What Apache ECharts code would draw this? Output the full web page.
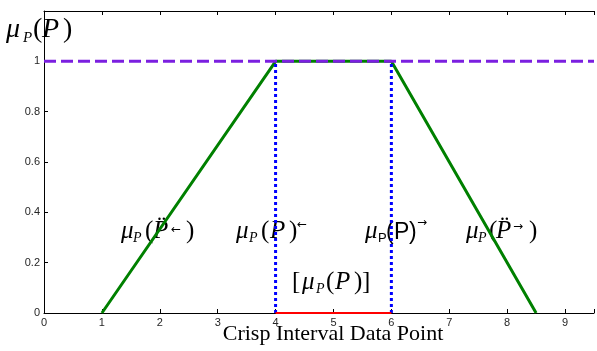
<!DOCTYPE html>
<html>
<head>
<meta charset="utf-8">
<script src="https://cdn.jsdelivr.net/npm/echarts@6/dist/echarts.min.js"></script>
<style>html,body{margin:0;padding:0;background:#fff;}#c{width:597px;height:351px;}</style>
</head>
<body>
<div id="c"></div>
<script>
// ---- data ----
const trapX = [1, 4, 6, 8.5];
const trapY = [0, 1, 1, 0];
const fullX = [0, 9.5];
const topLevel = [1, 1];
const leftCutX = [4, 4];
const rightCutX = [6, 6];
const cutY = [0, 1];
const intervalX = [4, 6];
const intervalY = [0, 0];
const xTickLabels = ['0','1','2','3','4','5','6','7','8','9'];
const yTickLabels = ['0','0.2','0.4','0.6','0.8','1'];

const zip = (a, b) => a.map((v, i) => [v, b[i]]);

const chart = echarts.init(document.getElementById('c'));

const SERIF = "'Liberation Serif', 'Times New Roman', serif";
const SANS = "'Liberation Sans', Arial, sans-serif";
const ARROW = "'DejaVu Sans', sans-serif";

// each part: t, x (left), size, italic, family, and either base (baseline) or cy (centre)
function buildLabel(parts) {
  return {
    type: 'group', silent: true,
    children: parts.map(p => {
      const font = (p.italic ? 'italic ' : '') + p.size + 'px ' + (p.family || SERIF);
      const y = p.cy !== undefined ? p.cy : p.base - 0.33 * p.size;
      return { type: 'text', silent: true,
        style: { text: p.t, x: p.x, y: y, font: font, fill: '#000', align: 'left', verticalAlign: 'middle' } };
    })
  };
}

const M = 25, sb = 14, ar = 12;
const graphics = [
  buildLabel([
    {t: 'μ', x: 6, base: 39, size: 28, italic: true},
    {t: 'P', x: 23, base: 43, size: 15, italic: true},
    {t: '(', x: 33, base: 39, size: 28},
    {t: 'P', x: 42, base: 39, size: 28, italic: true},
    {t: ')', x: 63, base: 39, size: 28}
  ]),
  buildLabel([
    {t: 'μ', x: 121, base: 240, size: M, italic: true},
    {t: 'P', x: 133, base: 243, size: sb, italic: true},
    {t: '(', x: 145, base: 240, size: M},
    {t: 'P\u0308', x: 153, base: 240, size: M, italic: true},
    {t: '←', x: 171, cy: 230, size: ar, family: ARROW},
    {t: ')', x: 186, base: 240, size: M}
  ]),
  buildLabel([
    {t: 'μ', x: 236, base: 240, size: M, italic: true},
    {t: 'P', x: 249, base: 243, size: sb, italic: true},
    {t: '(', x: 261, base: 240, size: M},
    {t: 'P', x: 270, base: 240, size: M, italic: true},
    {t: ')', x: 289, base: 240, size: M},
    {t: '←', x: 297, cy: 225, size: ar, family: ARROW}
  ]),
  buildLabel([
    {t: 'μ', x: 365, base: 240, size: M, italic: true},
    {t: 'P', x: 378, base: 243, size: sb - 1, family: SANS},
    {t: '(', x: 386, base: 240, size: 23, family: SANS},
    {t: 'P', x: 394, base: 240, size: 23, family: SANS},
    {t: ')', x: 409, base: 240, size: 23, family: SANS},
    {t: '→', x: 417, cy: 223, size: ar, family: ARROW}
  ]),
  buildLabel([
    {t: 'μ', x: 466, base: 240, size: M, italic: true},
    {t: 'P', x: 478, base: 243, size: sb, italic: true},
    {t: '(', x: 489, base: 240, size: M},
    {t: 'P\u0308', x: 496, base: 240, size: M, italic: true},
    {t: '→', x: 513, cy: 227, size: ar, family: ARROW},
    {t: ')', x: 529, base: 240, size: M}
  ]),
  buildLabel([
    {t: '[', x: 292, base: 291, size: M},
    {t: 'μ', x: 302, base: 291, size: M, italic: true},
    {t: 'P', x: 316, base: 294, size: sb, italic: true},
    {t: '(', x: 326, base: 291, size: M},
    {t: 'P', x: 335, base: 291, size: M, italic: true},
    {t: ')', x: 354, base: 291, size: M},
    {t: ']', x: 362, base: 291, size: M}
  ]),
  {
    type: 'text', silent: true,
    style: { text: 'Crisp Interval Data Point', x: 333, y: 341 - 0.33 * 22, font: '22px ' + SERIF,
      fill: '#000', align: 'center', verticalAlign: 'middle' }
  }
];

const axisCommon = {
  type: 'value',
  axisLine: { show: true, lineStyle: { color: '#000', width: 1 } },
  axisTick: { show: true, inside: true, length: 4, lineStyle: { color: '#000' } },
  splitLine: { show: false }
};

const option = {
  animation: false,
  backgroundColor: '#fff',
  grid: { left: 44, right: -1, top: 11, bottom: 38, containLabel: false },
  xAxis: [
    Object.assign({}, axisCommon, {
      min: 0, max: 9.5, interval: 1, position: 'bottom',
      axisLabel: { color: '#262626', fontSize: 11, fontFamily: SANS, margin: 4,
        formatter: v => { const i = xTickLabels.indexOf(String(v)); return i >= 0 ? xTickLabels[i] : ''; } }
    }),
    Object.assign({}, axisCommon, {
      min: 0, max: 9.5, interval: 1, position: 'top',
      axisLabel: { show: false }
    })
  ],
  yAxis: Object.assign({}, axisCommon, {
    min: 0, max: 1.2, interval: 0.2,
    axisLabel: { color: '#262626', fontSize: 11, fontFamily: SANS, margin: 4,
      formatter: v => { const t = String(Math.round(v * 10) / 10); return yTickLabels.indexOf(t) >= 0 ? t : ''; } }
  }),
  series: [
    { type: 'line', data: zip(trapX, trapY), symbol: 'none', silent: true,
      lineStyle: { color: '#008000', width: 3 }, z: 2 },
    { type: 'line', data: zip(fullX, topLevel), symbol: 'none', silent: true,
      lineStyle: { color: '#7b1fe0', width: 3, type: [12, 5] }, z: 3 },
    { type: 'line', data: zip(leftCutX, cutY), symbol: 'none', silent: true,
      lineStyle: { color: '#0000ff', width: 3, type: [3, 3] }, z: 4 },
    { type: 'line', data: zip(rightCutX, cutY), symbol: 'none', silent: true,
      lineStyle: { color: '#0000ff', width: 3, type: [3, 3] }, z: 4 },
    { type: 'line', data: zip(intervalX, intervalY), symbol: 'none', silent: true,
      lineStyle: { color: '#ff0000', width: 2 }, z: 5 }
  ],
  graphic: graphics
};
chart.setOption(option);
</script>
</body>
</html>
